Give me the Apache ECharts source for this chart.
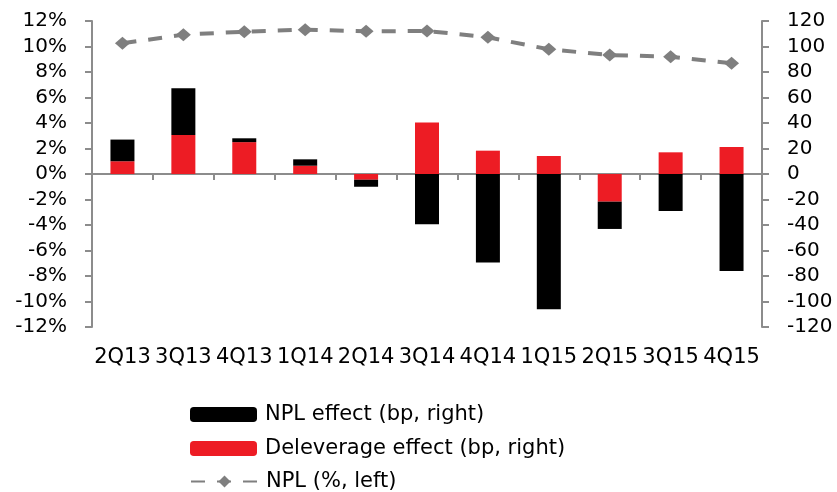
<!DOCTYPE html>
<html>
<head>
<meta charset="utf-8">
<script src="https://cdn.jsdelivr.net/npm/echarts@6/dist/echarts.min.js"></script>
<style>
  html, body { margin: 0; padding: 0; background: #fff; }
  #chart { width: 837px; height: 492px; }
</style>
</head>
<body>
<div id="chart"></div>
<script>
// Quarterly categories
const quarters = ['2Q13', '3Q13', '4Q13', '1Q14', '2Q14', '3Q14', '4Q14', '1Q15', '2Q15', '3Q15', '4Q15'];
// Deleverage effect, basis points (right axis)
const deleverageEffect = [10, 30.5, 25, 6.5, -4.5, 40.3, 18.3, 14.1, -21.7, 17, 21.2];
// NPL effect, basis points (right axis)
const nplEffect = [17, 36.7, 3, 5, -5.5, -39.5, -69.5, -106, -21.4, -29, -76];
// NPL ratio, percent (left axis)
const nplRatio = [10.25, 10.93, 11.16, 11.32, 11.19, 11.22, 10.72, 9.78, 9.33, 9.2, 8.68];

const FONT = 'DejaVu Sans';
const AXIS_GRAY = '#8c8c8c';
const LINE_GRAY = '#7f7f7f';

const NAME_NPL_EFFECT = 'NPL effect (bp, right)';
const NAME_DELEVERAGE = 'Deleverage effect (bp, right)';
const NAME_NPL = 'NPL (%, left)';

// One legend component per row so the three entries stack in a single column
function legendRow(name, top) {
  return {
    orient: 'vertical',
    left: 185,
    top: top,
    itemWidth: 67,
    itemHeight: 15,
    selectedMode: false,
    textStyle: { fontFamily: FONT, fontSize: 21, color: '#000', padding: [0, 0, 0, 3] },
    data: [name]
  };
}

const chart = echarts.init(document.getElementById('chart'));
chart.setOption({
  animation: false,
  textStyle: { fontFamily: FONT },
  grid: { left: 92, right: 75, top: 21, bottom: 165, containLabel: false },
  legend: [
    legendRow(NAME_NPL_EFFECT, 399),
    legendRow(NAME_DELEVERAGE, 433),
    legendRow(NAME_NPL, 466)
  ],
  xAxis: [
    {
      // baseline through zero with ticks between quarters
      type: 'category',
      data: quarters,
      axisLine: { onZero: true, lineStyle: { color: AXIS_GRAY, width: 2 } },
      axisTick: { show: true, length: 6, lineStyle: { color: AXIS_GRAY, width: 2 } },
      axisLabel: { show: false }
    },
    {
      // quarter labels along the bottom of the plot
      type: 'category',
      data: quarters,
      position: 'bottom',
      axisLine: { show: false, onZero: false },
      axisTick: { show: false },
      axisLabel: { show: true, margin: 20, fontSize: 21, color: '#000', fontFamily: FONT, interval: 0 }
    }
  ],
  yAxis: [
    {
      type: 'value',
      min: -12, max: 12, interval: 2,
      position: 'left',
      splitLine: { show: false },
      axisLine: { show: true, lineStyle: { color: AXIS_GRAY, width: 2 } },
      axisTick: { show: true, length: 7, lineStyle: { color: AXIS_GRAY, width: 2 } },
      axisLabel: { formatter: '{value}%', margin: 25, fontSize: 20, color: '#000', fontFamily: FONT }
    },
    {
      type: 'value',
      min: -120, max: 120, interval: 20,
      position: 'right',
      splitLine: { show: false },
      axisLine: { show: true, lineStyle: { color: AXIS_GRAY, width: 2 } },
      axisTick: { show: true, length: 7, lineStyle: { color: AXIS_GRAY, width: 2 } },
      axisLabel: { margin: 25, fontSize: 20, color: '#000', fontFamily: FONT }
    }
  ],
  series: [
    {
      name: NAME_DELEVERAGE,
      type: 'bar',
      stack: 'effects',
      yAxisIndex: 1,
      barWidth: 24,
      itemStyle: { color: '#ED1C24' },
      data: deleverageEffect
    },
    {
      name: NAME_NPL_EFFECT,
      type: 'bar',
      stack: 'effects',
      yAxisIndex: 1,
      barWidth: 24,
      itemStyle: { color: '#000000' },
      data: nplEffect
    },
    {
      name: NAME_NPL,
      type: 'line',
      yAxisIndex: 0,
      symbol: 'diamond',
      symbolSize: [15, 13],
      itemStyle: { color: LINE_GRAY },
      lineStyle: { color: LINE_GRAY, width: 4, type: [14, 12], cap: 'butt' },
      z: 5,
      data: nplRatio
    }
  ]
});
</script>
</body>
</html>
